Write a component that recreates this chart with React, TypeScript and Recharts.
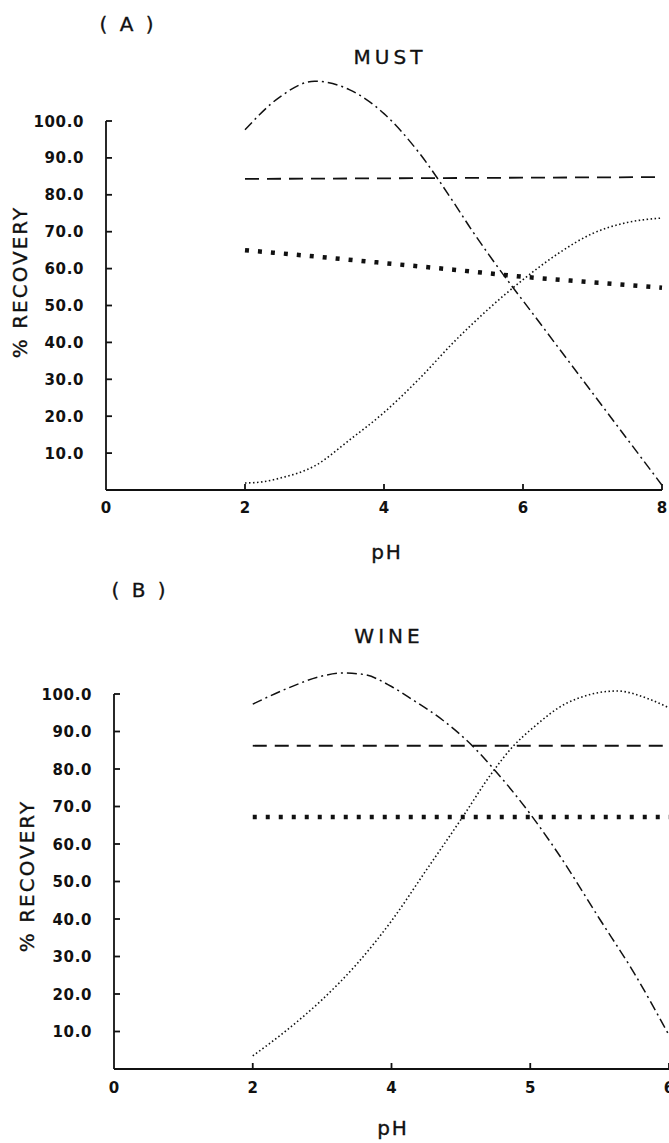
import React from 'react';
import { LineChart, Line, XAxis, YAxis, ReferenceLine } from 'recharts';

// ---------- Panel A : MUST (x = pH) ----------
const mustDashDotX = [2, 2.5, 3, 3.5, 4, 4.5, 5, 5.26, 5.5, 5.85, 6, 6.5, 7, 7.5, 8];
const mustDashDotY = [97.6, 106.5, 110.8, 108.5, 102, 91.5, 78, 70.5, 64, 55, 51.3, 38.8, 26.3, 13.8, 1.3];

const mustDashedX = [2, 8];
const mustDashedY = [84.3, 84.8];

const mustCrossX = [2, 3, 4, 5, 6, 7, 8];
const mustCrossY = [65, 63.3, 61.5, 59.7, 57.8, 56.3, 54.8];

const mustDottedX = [2, 2.25, 2.5, 3, 3.5, 4, 4.5, 5, 5.5, 6, 6.5, 7, 7.5, 8];
const mustDottedY = [1.9, 2.2, 3.2, 6.5, 13.5, 21, 30, 40, 49, 57, 64, 69.5, 72.5, 73.7];

const mustXTicks = [0, 2, 4, 6, 8];
const mustXLabels = ['0', '2', '4', '6', '8'];

// ---------- Panel B : WINE (x = tick position; labels printed as 0,2,4,5,6) ----------
const wineDashDotX = [2, 2.5, 3, 3.3, 3.6, 4, 4.31, 4.74, 5.17, 5.45, 6, 6.42, 7, 7.5, 8];
const wineDashDotY = [97.3, 101.5, 104.8, 105.6, 105.2, 102, 98.4, 93, 86.1, 80.5, 68, 57, 40, 25.5, 9];

const wineDashedX = [2, 8];
const wineDashedY = [86.2, 86.2];

const wineCrossX = [2, 8];
const wineCrossY = [67.2, 67.2];

const wineDottedX = [2, 2.5, 3, 3.5, 4, 4.5, 5, 5.45, 5.75, 6.04, 6.53, 7.25, 7.72, 8];
const wineDottedY = [3.5, 10.5, 18.5, 28, 39.5, 53, 66.5, 79, 86, 91, 97.6, 100.8, 98.6, 96.3];

const wineXTicks = [0, 2, 4, 6, 8];
const wineXLabels = ['0', '2', '4', '5', '6'];

const yTicks = [10, 20, 30, 40, 50, 60, 70, 80, 90, 100];

const zip = (xs: number[], ys: number[]) => xs.map((x, i) => ({ x, v: ys[i] }));

const FONT = '"DejaVu Sans", sans-serif';
const INK = '#111';

const makeYTick = () => (props: any) => {
  const { x, y, payload } = props;
  return (
    <g>
      <line x1={x} y1={y} x2={x + 6} y2={y} stroke={INK} strokeWidth={1.8} />
      <text x={x - 22} y={y} dy={5.5} textAnchor="end" fontFamily={FONT} fontWeight="bold" fontSize={15} letterSpacing={0.6} fill={INK}>
        {Number(payload.value).toFixed(1)}
      </text>
    </g>
  );
};

const makeXTick = (ticks: number[], labels: string[], dyLabel: number) => (props: any) => {
  const { x, y, payload } = props;
  const idx = ticks.indexOf(payload.value);
  return (
    <g>
      {payload.value !== 0 && <line x1={x} y1={y} x2={x} y2={y - 6} stroke={INK} strokeWidth={1.8} />}
      <text x={x} y={y + dyLabel} textAnchor="middle" fontFamily={FONT} fontWeight="bold" fontSize={15} fill={INK}>
        {labels[idx]}
      </text>
    </g>
  );
};

const dashDot = { stroke: INK, strokeWidth: 1.5, strokeDasharray: '10 4 2 4' };
const dashed = { stroke: INK, strokeWidth: 1.8, strokeDasharray: '14 8' };
const crosses = { stroke: INK, strokeWidth: 4.5, strokeDasharray: '4 9' };
const dotted = { stroke: INK, strokeWidth: 1.6, strokeDasharray: '1.5 2.5' };

const titleStyle = (x: number, y: number, size: number, spacing: number): React.CSSProperties => ({
  position: 'absolute',
  left: x,
  top: y,
  transform: 'translate(-50%, -50%)',
  fontFamily: FONT,
  fontSize: size,
  letterSpacing: spacing,
  lineHeight: 1,
  whiteSpace: 'pre',
  color: INK,
  WebkitTextStroke: `0.35px ${INK}`,
});

function Panel(props: {
  top: number;
  height: number;
  marginTop: number;
  marginBottom: number;
  marginRight: number;
  yAxisWidth: number;
  yMax: number;
  xTicks: number[];
  xLabels: string[];
  series: { data: { x: number; v: number }[]; style: any }[];
  phY: number;
  phX: number;
  recY: number;
  recX: number;
  tickDy: number;
}) {
  const p = props;
  return (
    <div style={{ position: 'absolute', left: 0, top: p.top }}>
      <LineChart
        width={669}
        height={p.height}
        margin={{ top: p.marginTop, right: p.marginRight, bottom: p.marginBottom, left: 0 }}
      >
        <XAxis
          type="number"
          dataKey="x"
          domain={[0, 8]}
          ticks={p.xTicks}
          interval={0}
          tickSize={0}
          tickMargin={0}
          height={40}
          axisLine={{ stroke: INK, strokeWidth: 1.8 }}
          tickLine={false}
          tick={makeXTick(p.xTicks, p.xLabels, p.tickDy)}
          allowDuplicatedCategory={false}
          label={() => (
            <text x={p.phX} y={p.phY} textAnchor="middle" fontFamily={FONT} fontSize={20} letterSpacing={2} fill={INK} stroke={INK} strokeWidth={0.35}>
              pH
            </text>
          )}
        />
        <YAxis
          type="number"
          domain={[0, p.yMax]}
          ticks={yTicks}
          interval={0}
          width={p.yAxisWidth}
          tickSize={0}
          tickMargin={0}
          axisLine={false}
          tickLine={false}
          tick={makeYTick()}
          label={() => (
            <text
              x={p.recX}
              y={p.recY}
              textAnchor="middle"
              fontFamily={FONT}
              fontSize={20}
              letterSpacing={2}
              fill={INK}
              stroke={INK}
              strokeWidth={0.35}
              transform={`rotate(-90 ${p.recX} ${p.recY})`}
              dy={7}
            >
              % RECOVERY
            </text>
          )}
        />
        <ReferenceLine
          segment={[
            { x: 0, y: 0 },
            { x: 0, y: 100 },
          ]}
          stroke={INK}
          strokeWidth={1.8}
          ifOverflow="visible"
        />
        {p.series.map((s, i) => (
          <Line
            key={i}
            data={s.data}
            dataKey="v"
            type="monotone"
            dot={false}
            activeDot={false}
            isAnimationActive={false}
            {...s.style}
          />
        ))}
      </LineChart>
    </div>
  );
}

export default function App() {
  return (
    <div style={{ position: 'absolute', left: 0, top: 0, width: 669, height: 1143, overflow: 'hidden', background: '#fff' }}>
      <div style={titleStyle(128, 24, 20, 3)}>( A )</div>
      <div style={titleStyle(390, 57, 20, 4)}>MUST</div>
      <Panel
        top={0}
        height={580}
        marginTop={65.65}
        marginBottom={50}
        marginRight={7}
        yAxisWidth={106}
        yMax={115}
        xTicks={mustXTicks}
        xLabels={mustXLabels}
        series={[
          { data: zip(mustDashDotX, mustDashDotY), style: dashDot },
          { data: zip(mustDashedX, mustDashedY), style: dashed },
          { data: zip(mustCrossX, mustCrossY), style: crosses },
          { data: zip(mustDottedX, mustDottedY), style: dotted },
        ]}
        phX={387}
        phY={559}
        recX={20}
        recY={282}
        tickDy={23}
      />
      <div style={titleStyle(140, 590, 20, 3)}>( B )</div>
      <div style={titleStyle(389, 636, 20, 4)}>WINE</div>
      <Panel
        top={600}
        height={543}
        marginTop={56.5}
        marginBottom={34}
        marginRight={0}
        yAxisWidth={114}
        yMax={110}
        xTicks={wineXTicks}
        xLabels={wineXLabels}
        series={[
          { data: zip(wineDashDotX, wineDashDotY), style: dashDot },
          { data: zip(wineDashedX, wineDashedY), style: dashed },
          { data: zip(wineCrossX, wineCrossY), style: crosses },
          { data: zip(wineDottedX, wineDottedY), style: dotted },
        ]}
        phX={393}
        phY={535}
        recX={27}
        recY={276}
        tickDy={24}
      />
    </div>
  );
}
